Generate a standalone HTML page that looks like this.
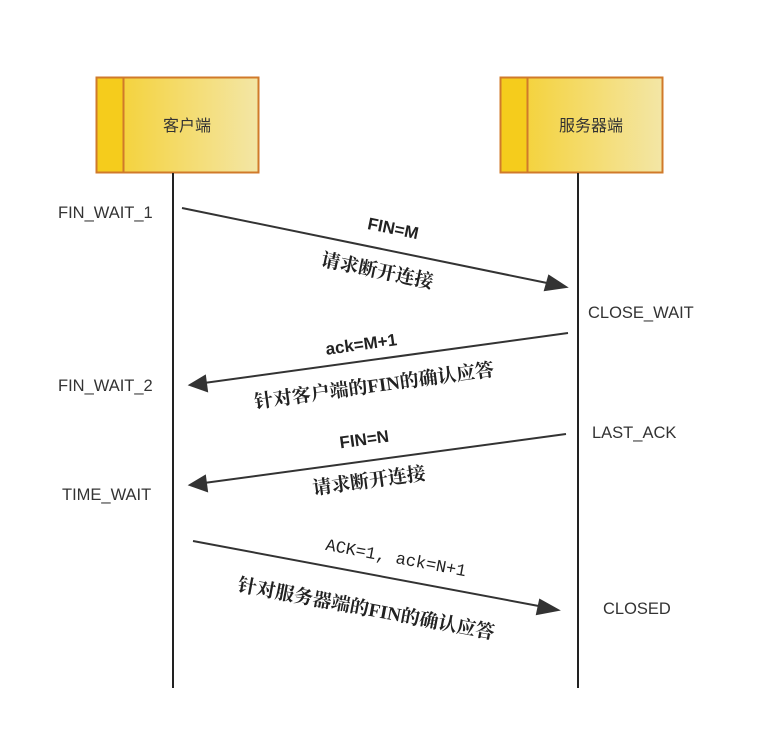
<!DOCTYPE html>
<html><head><meta charset="utf-8"><style>
html,body{margin:0;padding:0;background:#fff;}
svg{display:block;}
text{font-family:"Liberation Sans","Noto Sans CJK SC",sans-serif;fill:#333;}
.s{font-size:16.5px;}
.c{font-family:"Liberation Serif","Noto Serif CJK SC",serif;font-size:19px;font-weight:bold;fill:#222;}
.b{font-size:17px;font-weight:bold;fill:#222;}
.m{font-family:"Liberation Mono",monospace;font-size:17px;fill:#222;}
</style></head><body>
<svg width="769" height="738" viewBox="0 0 769 738">
<defs>
<linearGradient id="g" x1="0" x2="1" y1="0" y2="0">
<stop offset="0" stop-color="#f5cf2a"/><stop offset="1" stop-color="#f3e6a6"/>
</linearGradient>
</defs>
<rect x="96.5" y="77.5" width="162" height="95" fill="url(#g)" stroke="#d07a2a" stroke-width="2"/>
<rect x="96.5" y="77.5" width="27" height="95" fill="#f5cc1c" stroke="#d07a2a" stroke-width="2"/>
<text x="187" y="131" class="s" text-anchor="middle" style="font-size:16px">客户端</text>
<rect x="500.5" y="77.5" width="162" height="95" fill="url(#g)" stroke="#d07a2a" stroke-width="2"/>
<rect x="500.5" y="77.5" width="27" height="95" fill="#f5cc1c" stroke="#d07a2a" stroke-width="2"/>
<text x="591" y="131" class="s" text-anchor="middle" style="font-size:16px">服务器端</text>
<line x1="173" y1="173" x2="173" y2="688" stroke="#222" stroke-width="2"/>
<line x1="578" y1="173" x2="578" y2="688" stroke="#222" stroke-width="2"/>
<g stroke="#333" stroke-width="2" fill="#333">
<line x1="182" y1="208" x2="552" y2="284"/>
<polygon points="566,287 545,290 549,276"/>
<line x1="568" y1="333" x2="204" y2="383"/>
<polygon points="190,385 205,376 207,391"/>
<line x1="566" y1="434" x2="204" y2="483"/>
<polygon points="190,485 205,476 207,491"/>
<line x1="193" y1="541" x2="544" y2="607"/>
<polygon points="558,610 537,614 540,600"/>
</g>
<text x="58" y="218" class="s">FIN_WAIT_1</text>
<text x="588" y="318" class="s">CLOSE_WAIT</text>
<text x="58" y="391" class="s">FIN_WAIT_2</text>
<text x="592" y="438" class="s">LAST_ACK</text>
<text x="62" y="500" class="s">TIME_WAIT</text>
<text x="603" y="614" class="s">CLOSED</text>
<text class="b" text-anchor="middle" transform="translate(392,234) rotate(11.6)">FIN=M</text>
<text class="c" text-anchor="middle" transform="translate(376,277) rotate(11.6)">请求断开连接</text>
<text class="b" text-anchor="middle" transform="translate(362,350) rotate(-7.8)">ack=M+1</text>
<text class="c" text-anchor="middle" transform="translate(375,392) rotate(-7.8)">针对客户端的FIN的确认应答</text>
<text class="b" text-anchor="middle" transform="translate(365,445) rotate(-7.8)">FIN=N</text>
<text class="c" text-anchor="middle" transform="translate(370,487) rotate(-7.8)">请求断开连接</text>
<text class="m" text-anchor="middle" transform="translate(395,563) rotate(10.7)">ACK=1, ack=N+1</text>
<text class="c" text-anchor="middle" transform="translate(365,615) rotate(10.7)">针对服务器端的FIN的确认应答</text>
</svg>
</body></html>
